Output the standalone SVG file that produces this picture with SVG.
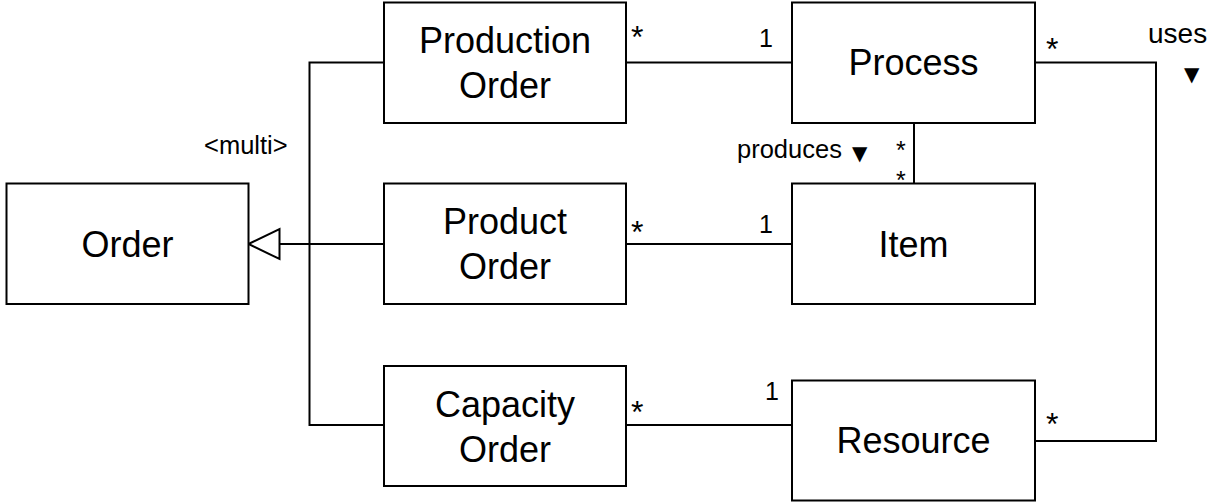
<svg xmlns="http://www.w3.org/2000/svg" width="1213" height="502" viewBox="0 0 1213 502">
<style>
.box{fill:#fff;stroke:#000;stroke-width:2}
.big{font-family:"Liberation Sans",Arial,sans-serif;font-size:36px;fill:#000;text-anchor:middle}
.lbl{font-family:"Liberation Sans",Arial,sans-serif;font-size:25.5px;fill:#000}
.mul{font-family:"Liberation Sans",Arial,sans-serif;font-size:25px;fill:#000}
.ast{font-family:"Liberation Sans",Arial,sans-serif;font-size:32px;fill:#000}
.tri{font-family:"DejaVu Sans",sans-serif;font-size:20px;fill:#000}
.edge{fill:none;stroke:#000;stroke-width:2}
</style>
<rect width="1213" height="502" fill="#fff"/>
<g id="connectors">
<path class="edge" d="M626 62.5H792"/>
<path class="edge" d="M626 244H792"/>
<path class="edge" d="M626 425H792"/>
<path class="edge" d="M1035 62.5H1156V441H1035"/>
<path class="edge" d="M914 123V184"/>
<path class="edge" d="M384 62.5H309.5V425H384"/>
<path class="edge" d="M384 244H279.5"/>
<polygon points="248.5,244 279.5,229 279.5,259" fill="#fff" stroke="#000" stroke-width="2"/>
</g>
<g id="order"><rect class="box" x="6.5" y="183.5" width="242" height="120.5"/><text class="big" x="127.5" y="256.6">Order</text></g>
<g id="production-order"><rect class="box" x="384" y="2.5" width="242" height="120.5"/><text class="big" x="505" y="53.2">Production</text><text class="big" x="505" y="98.2">Order</text></g>
<g id="product-order"><rect class="box" x="384" y="183.5" width="242" height="120.5"/><text class="big" x="505" y="234.2">Product</text><text class="big" x="505" y="279.2">Order</text></g>
<g id="capacity-order"><rect class="box" x="384" y="366" width="242" height="120"/><text class="big" x="505" y="416.6">Capacity</text><text class="big" x="505" y="461.6">Order</text></g>
<g id="process"><rect class="box" x="792" y="2.5" width="243" height="120.5"/><text class="big" x="913.5" y="75.4">Process</text></g>
<g id="item"><rect class="box" x="792" y="183.5" width="243" height="120.5"/><text class="big" x="913.5" y="256.6">Item</text></g>
<g id="resource"><rect class="box" x="792" y="380.5" width="243" height="120"/><text class="big" x="913.5" y="453.4">Resource</text></g>
<g id="labels">
<text class="lbl" x="204" y="154">&lt;multi&gt;</text>
<text class="lbl" x="737" y="158">produces</text>
<text class="tri" x="852" y="160">▼</text>
<text class="lbl" x="1148" y="42.7" style="font-size:28px">uses</text>
<text class="tri" x="1184" y="81">▼</text>
<text class="ast" x="631" y="48">*</text>
<text class="mul" x="759" y="47">1</text>
<text class="ast" x="1046" y="60">*</text>
<text class="ast" x="631" y="243">*</text>
<text class="mul" x="759" y="233">1</text>
<text class="ast" x="896" y="158.5" style="font-size:25px">*</text>
<text class="ast" x="896" y="188.5" style="font-size:25px">*</text>
<text class="ast" x="631" y="423">*</text>
<text class="mul" x="765" y="400">1</text>
<text class="ast" x="1046" y="435">*</text>
</g>
</svg>
